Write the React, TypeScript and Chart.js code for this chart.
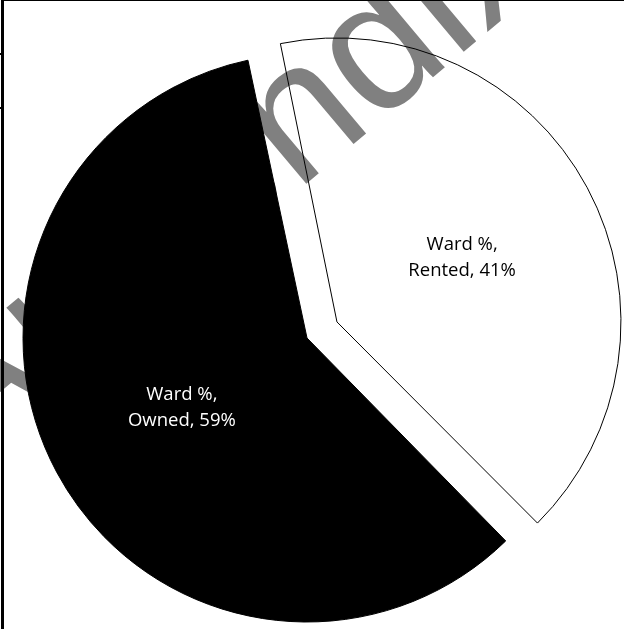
import React, { useEffect, useRef } from "react";
import { Chart, registerables } from "chart.js";

Chart.register(...registerables);

const categories = ["Rented", "Owned"];
const seriesName = "Ward %";
const values = [41, 59];
const fillColors = ["rgba(255,255,255,0)", "#000000"];
const labelColors = ["#000000", "#ffffff"];
const offsets = [136, 0];
const watermarkText = "Appendix";
const PIE_RADIUS = 284;

const framePlugin = {
  id: "frame",
  beforeDatasetsDraw(chart: any) {
    const ctx = chart.ctx;
    // keep exploded slice same radius as the rest (Chart.js grows it by offset/4*fix)
    const meta = chart.getDatasetMeta(0);
    meta.data.forEach((arc: any) => {
      const o = (arc.options.offset || 0) / 4;
      const circ = arc.endAngle - arc.startAngle;
      const fix = 1 - Math.sin(Math.min(Math.PI, circ));
      arc.outerRadius = PIE_RADIUS - o * fix;
    });
    // watermark
    ctx.save();
    const size = 185;
    ctx.font = `${size}px "Liberation Sans", Arial, sans-serif`;
    ctx.fillStyle = "#808080";
    ctx.textAlign = "left";
    ctx.textBaseline = "alphabetic";
    const idx = watermarkText.indexOf("n");
    const ox = ctx.measureText(watermarkText.slice(0, idx)).width + ctx.measureText("n").width / 2;
    ctx.translate(305, 122);
    ctx.rotate((-40 * Math.PI) / 180);
    ctx.fillText(watermarkText, -ox, size * 0.26);
    ctx.restore();
  },
  afterDatasetsDraw(chart: any) {
    const ctx = chart.ctx;
    const meta = chart.getDatasetMeta(0);
    ctx.save();
    ctx.font = '18.5px "Open Sans", sans-serif';
    ctx.textAlign = "center";
    ctx.textBaseline = "middle";
    meta.data.forEach((arc: any, i: number) => {
      const mid = (arc.startAngle + arc.endAngle) / 2;
      const r = PIE_RADIUS / 2 + (arc.options.offset || 0) / 4;
      const x = arc.x + Math.cos(mid) * r;
      const y = arc.y + Math.sin(mid) * r + 2.5;
      ctx.fillStyle = labelColors[i];
      ctx.fillText(`${seriesName},`, x, y - 13);
      ctx.fillText(`${categories[i]}, ${values[i]}%`, x, y + 13);
    });
    ctx.restore();
  },
  afterDraw(chart: any) {
    const ctx = chart.ctx;
    ctx.save();
    ctx.fillStyle = "#000";
    ctx.fillRect(1, 0, 3, chart.height);
    ctx.fillRect(1, 0, chart.width, 1);
    ctx.fillRect(0, 53, 2, 2);
    ctx.fillRect(0, 107, 2, 2);
    ctx.restore();
  },
};

export default function App() {
  const ref = useRef<HTMLCanvasElement | null>(null);
  useEffect(() => {
    if (!ref.current) return;
    const chart = new Chart(ref.current, {
      type: "pie",
      data: {
        labels: categories,
        datasets: [
          {
            label: seriesName,
            data: values,
            backgroundColor: fillColors,
            borderColor: "#000000",
            borderWidth: 1,
            offset: offsets,
            radius: PIE_RADIUS,
          } as any,
        ],
      },
      options: {
        responsive: false,
        animation: false,
        rotation: -12,
        layout: { padding: { left: 0, right: 10, top: 47, bottom: 0 } },
        plugins: {
          legend: { display: false },
          tooltip: { enabled: false },
        },
      },
      plugins: [framePlugin],
    });
    return () => chart.destroy();
  }, []);
  return (
    <div style={{ position: "absolute", left: 0, top: 0, width: 624, height: 629, background: "#fff" }}>
      <canvas ref={ref} width={624} height={629} style={{ width: 624, height: 629, display: "block" }} />
    </div>
  );
}
